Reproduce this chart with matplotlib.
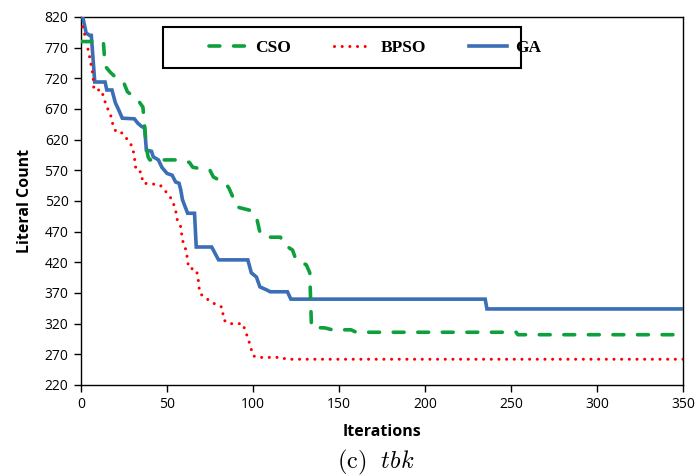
import matplotlib
matplotlib.use("Agg")
import matplotlib.pyplot as plt
from matplotlib.patches import Rectangle

# ---- data ----
ga_x = [1, 3, 5, 6, 8, 14, 15, 18, 20, 22, 24, 31, 33, 35, 37, 38, 41, 42, 45, 47,
        50, 53, 55, 57, 58, 59, 62, 66, 67, 76, 79, 80, 97, 99, 102, 104, 108, 110,
        120, 122, 235, 236, 350]
ga_y = [820, 794, 790, 790, 714, 714, 701, 701, 680, 668, 655, 654, 647, 642, 639, 603,
        601, 592, 587, 575, 565, 562, 551, 549, 538, 522, 500, 500, 445, 445, 429, 424,
        424, 403, 396, 380, 375, 372, 372, 360, 360, 344, 344]

bpso_x = [1, 3, 5, 7, 7.5, 12, 13, 15, 17, 19, 21, 24, 27, 30, 31, 32, 35, 36, 41, 46,
          50, 53, 55, 56, 58, 59, 61, 62, 62.5, 67, 68, 69, 72, 74, 79, 82, 83, 86, 94,
          96, 98, 100, 102, 117, 119, 350]
bpso_y = [804, 782, 755, 725, 701, 701, 690, 673, 663, 639, 631, 631, 620, 608, 592, 570,
          567, 549, 548, 546, 533, 522, 505, 489, 478, 456, 440, 424, 411, 408, 396, 370,
          362, 359, 350, 347, 326, 320, 320, 305, 288, 268, 265, 265, 262, 262]

cso_x = [0, 13, 14, 17, 20, 25, 27, 33, 36, 37, 38, 39, 40, 56, 63, 65, 75, 77, 84, 86,
         89, 91, 98, 100, 102, 104, 107, 116, 117, 123, 125, 131, 133, 134, 142, 146,
         157, 160, 253, 254, 350]
cso_y = [780, 780, 740, 730, 722, 712, 698, 685, 673, 641, 608, 592, 587, 587, 583, 575,
         570, 559, 549, 541, 522, 510, 505, 497, 494, 469, 461, 461, 451, 440, 424, 416,
         403, 314, 313, 310, 310, 306, 306, 302, 302]

series_names = ["CSO", "BPSO", "GA"]
x_ticks = [0, 50, 100, 150, 200, 250, 300, 350]
y_ticks = [220, 270, 320, 370, 420, 470, 520, 570, 620, 670, 720, 770, 820]

plt.rcParams["mathtext.fontset"] = "cm"

fig = plt.figure(figsize=(6.96, 4.76), dpi=100)
ax = fig.add_axes([81 / 696, 1 - 385 / 476, 602 / 696, 368 / 476])

l_ga, = ax.plot(ga_x, ga_y, color="#3A6EB5", lw=2.6, solid_joinstyle="miter",
                label=series_names[2], zorder=3)
l_bpso, = ax.plot(bpso_x, bpso_y, color="#FF0000", lw=2.2, linestyle=(0, (0.01, 2.5)),
                  dash_capstyle="round", label=series_names[1], zorder=4)
l_cso, = ax.plot(cso_x, cso_y, color="#0EA03C", lw=2.6, linestyle=(0, (3, 3.8)),
                 dash_capstyle="round", label=series_names[0], zorder=5)

ax.set_xlim(0, 350)
ax.set_ylim(220, 820)
ax.set_xticks(x_ticks)
ax.set_yticks(y_ticks)
tick_font = dict(family="Open Sans", size=10)
ax.set_xticklabels([str(v) for v in x_ticks], **tick_font)
ax.set_yticklabels([str(v) for v in y_ticks], **tick_font)
ax.tick_params(direction="out", length=5, width=1.0, colors="black", pad=4)
for s in ax.spines.values():
    s.set_linewidth(1.0)
    s.set_color("black")

ax.set_xlabel("Iterations", family="Open Sans", weight="bold", size=11.5, labelpad=8)
ax.set_ylabel("Literal Count", family="Open Sans", weight="bold", size=11.5, labelpad=8)

# legend frame box
ax.add_patch(Rectangle((82 / 602, 317 / 368), 358 / 602, 41 / 368,
                       transform=ax.transAxes, facecolor="white", edgecolor="black",
                       linewidth=1.5, zorder=6, clip_on=False))
leg = ax.legend(handles=[l_cso, l_bpso, l_ga], ncol=3,
                bbox_to_anchor=(128 / 602, 337.5 / 368), loc="center left",
                prop=dict(family="Liberation Serif", weight="bold", size=12.5),
                frameon=False, handlelength=2.2, handletextpad=0.45,
                columnspacing=2.5, borderpad=0, borderaxespad=0)
leg.set_zorder(7)

fig.text(376 / 696, 1 - 462 / 476, r"$\mathrm{(c)}\ \ tbk$", ha="center", va="center",
         size=17.5)

fig.savefig("out.png", dpi=100)
